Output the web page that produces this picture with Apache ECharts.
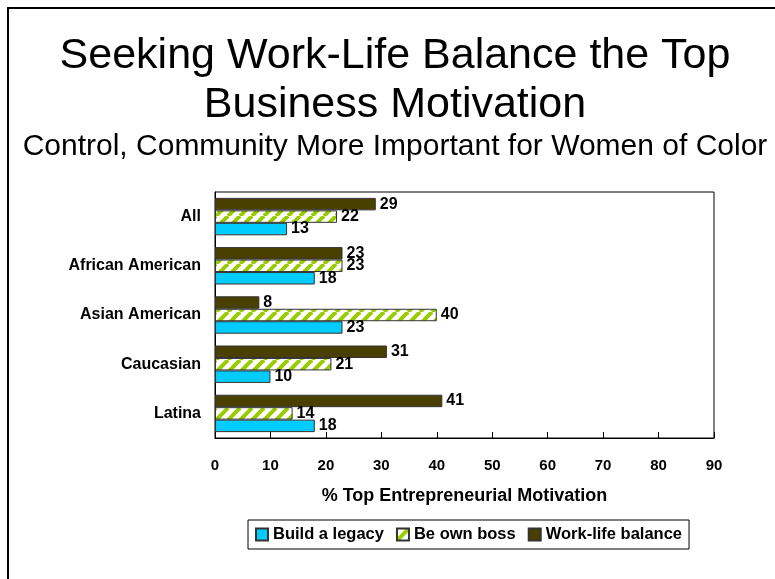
<!DOCTYPE html>
<html>
<head>
<meta charset="utf-8">
<script src="https://cdn.jsdelivr.net/npm/echarts@6/dist/echarts.min.js"></script>
<style>
  html, body { margin: 0; padding: 0; background: #fff; }
  #chart { width: 775px; height: 579px; }
</style>
</head>
<body>
<div id="chart"></div>
<script>
const categories = ['All', 'African American', 'Asian American', 'Caucasian', 'Latina']
const legacy = [13, 18, 23, 10, 18]
const ownBoss = [22, 23, 40, 21, 14]
const workLife = [29, 23, 8, 31, 41]
const xTicks = [0, 10, 20, 30, 40, 50, 60, 70, 80, 90]

// striped fill for "Be own boss"
const makeStripes = () => {
  const c = document.createElement('canvas')
  c.width = 12
  c.height = 12
  const ctx = c.getContext('2d')
  ctx.fillStyle = '#fff'
  ctx.fillRect(0, 0, 12, 12)
  ctx.strokeStyle = '#99cc00'
  ctx.lineWidth = 4
  for (let k = -12; k <= 24; k += 12) {
    ctx.beginPath()
    ctx.moveTo(k, 12)
    ctx.lineTo(k + 12, 0)
    ctx.stroke()
  }
  return c
}
const stripes = { image: makeStripes(), repeat: 'repeat' }

const font = 'Liberation Sans, Arial, sans-serif'
const chart = echarts.init(document.getElementById('chart'))
const barLabel = {
  show: true,
  position: 'right',
  distance: 4,
  color: '#000',
  fontWeight: 'bold',
  fontSize: 16,
  fontFamily: font
}
const option = {
  animation: false,
  graphic: [
    {
      type: 'rect',
      shape: { x: 8, y: 8, width: 820, height: 640 },
      style: { fill: 'none', stroke: '#000', lineWidth: 2 }
    },
    {
      type: 'text', x: 395, y: 35,
      style: { text: 'Seeking Work-Life Balance the Top', font: '43px ' + font, fill: '#000', align: 'center' }
    },
    {
      type: 'text', x: 395, y: 84,
      style: { text: 'Business Motivation', font: '43px ' + font, fill: '#000', align: 'center' }
    },
    {
      type: 'text', x: 395, y: 132,
      style: { text: 'Control, Community More Important for Women of Color', font: '30px ' + font, fill: '#000', align: 'center' }
    }
  ],
  legend: {
    bottom: 30,
    left: 248,
    icon: 'rect',
    itemWidth: 12,
    itemHeight: 12,
    itemGap: 12,
    padding: [6, 7, 6, 7],
    borderColor: '#000',
    borderWidth: 1,
    textStyle: { color: '#000', fontWeight: 'bold', fontSize: 16.5, fontFamily: font },
    data: ['Build a legacy', 'Be own boss', 'Work-life balance']
  },
  grid: {
    left: 215, top: 192, right: 61, bottom: 141,
    show: true, borderColor: '#000', borderWidth: 1
  },
  xAxis: {
    type: 'value',
    min: 0, max: 90, interval: 10,
    name: '% Top Entrepreneurial Motivation',
    nameLocation: 'middle',
    nameGap: 49,
    nameTextStyle: { color: '#000', fontWeight: 'bold', fontSize: 18, fontFamily: font },
    axisLine: { show: true, lineStyle: { color: '#000' } },
    axisTick: { show: true, inside: true, length: 6, lineStyle: { color: '#000' } },
    axisLabel: {
      color: '#000', fontWeight: 'bold', fontSize: 15, fontFamily: font, margin: 20,
      formatter: v => xTicks.includes(v) ? String(v) : ''
    },
    splitLine: { show: false }
  },
  yAxis: {
    type: 'category',
    inverse: true,
    data: categories,
    axisLine: { lineStyle: { color: '#000' } },
    axisTick: { show: false },
    axisLabel: { color: '#000', fontWeight: 'bold', fontSize: 16, fontFamily: font, margin: 14 }
  },
  series: [
    {
      name: 'Work-life balance', type: 'bar', data: workLife,
      barGap: '0%', barCategoryGap: '24%',
      itemStyle: { color: '#494000', borderColor: '#333', borderWidth: 1 },
      label: barLabel
    },
    {
      name: 'Be own boss', type: 'bar', data: ownBoss,
      itemStyle: { color: stripes, borderColor: '#333', borderWidth: 1 },
      label: barLabel
    },
    {
      name: 'Build a legacy', type: 'bar', data: legacy,
      itemStyle: { color: '#00ccff', borderColor: '#333', borderWidth: 1 },
      label: barLabel
    }
  ]
}
chart.setOption(option)
</script>
</body>
</html>
